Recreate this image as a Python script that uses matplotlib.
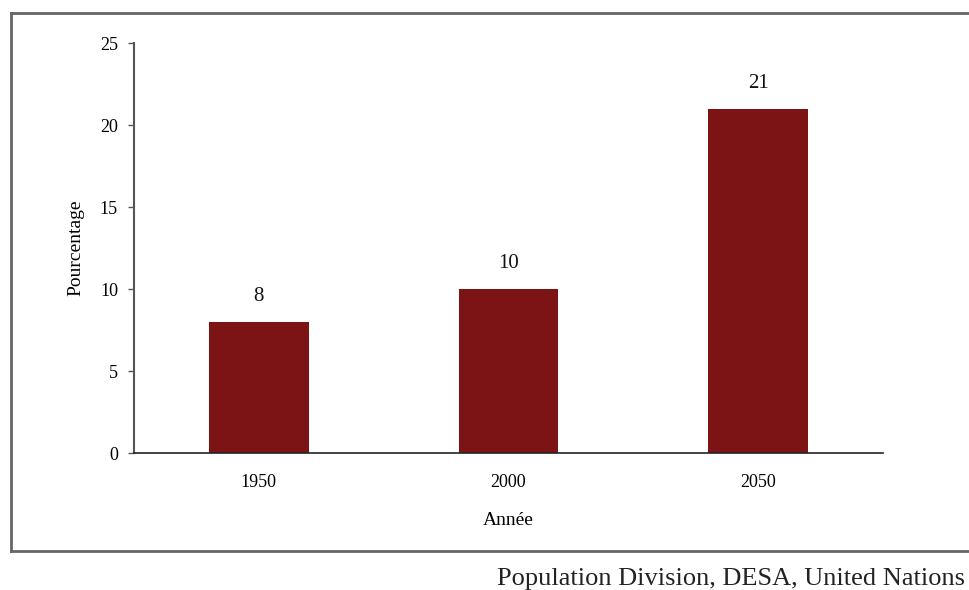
import matplotlib.pyplot as plt
from matplotlib.lines import Line2D

years = ["1950", "2000", "2050"]
pct = [8, 10, 21]

plt.rcParams["font.family"] = ["Liberation Serif", "DejaVu Serif"]

fig = plt.figure(figsize=(9.7, 5.9), dpi=100)
ax = fig.add_axes([134 / 970, 1 - 453 / 590, (883 - 134) / 970, (453 - 43) / 590])

bars = ax.bar(range(len(years)), pct, width=0.4, color="#7C1416")
for b, v in zip(bars, pct):
    ax.annotate(str(v), (b.get_x() + b.get_width() / 2, v), xytext=(0, 18),
                textcoords="offset points", ha="center", va="center", fontsize=15,
                color="#111111")

ax.set_xlim(-0.5, 2.5)
ax.set_ylim(0, 25)
ax.set_yticks([0, 5, 10, 15, 20, 25])
ax.set_xticks(range(len(years)))
ax.set_xticklabels(years)
ax.tick_params(axis="x", length=0, pad=15, labelsize=13)
ax.tick_params(axis="y", length=4.5, width=1, color="#555555", pad=7, labelsize=13)
for s in ["top", "right"]:
    ax.spines[s].set_visible(False)
ax.spines["left"].set_color("#555555")
ax.spines["left"].set_linewidth(1.5)
ax.spines["bottom"].set_color("#222222")
ax.spines["bottom"].set_linewidth(1.2)
ax.set_xlabel("Année", fontsize=14, labelpad=15.5)
ax.set_ylabel("Pourcentage", fontsize=14, labelpad=11)

# frame around the chart
fc = "#666666"
fig.add_artist(Line2D([11 / 970, 1], [1 - 12.5 / 590] * 2, color=fc, lw=2))
fig.add_artist(Line2D([11 / 970, 1], [1 - 551 / 590] * 2, color=fc, lw=2))
fig.add_artist(Line2D([11 / 970] * 2, [1 - 12.5 / 590, 1 - 551 / 590], color=fc, lw=2))

fig.text(965 / 970, 1 - 579 / 590, "Population Division, DESA, United Nations",
         ha="right", va="center", fontsize=19, color="#222222")

fig.savefig("out.png", dpi=100)
